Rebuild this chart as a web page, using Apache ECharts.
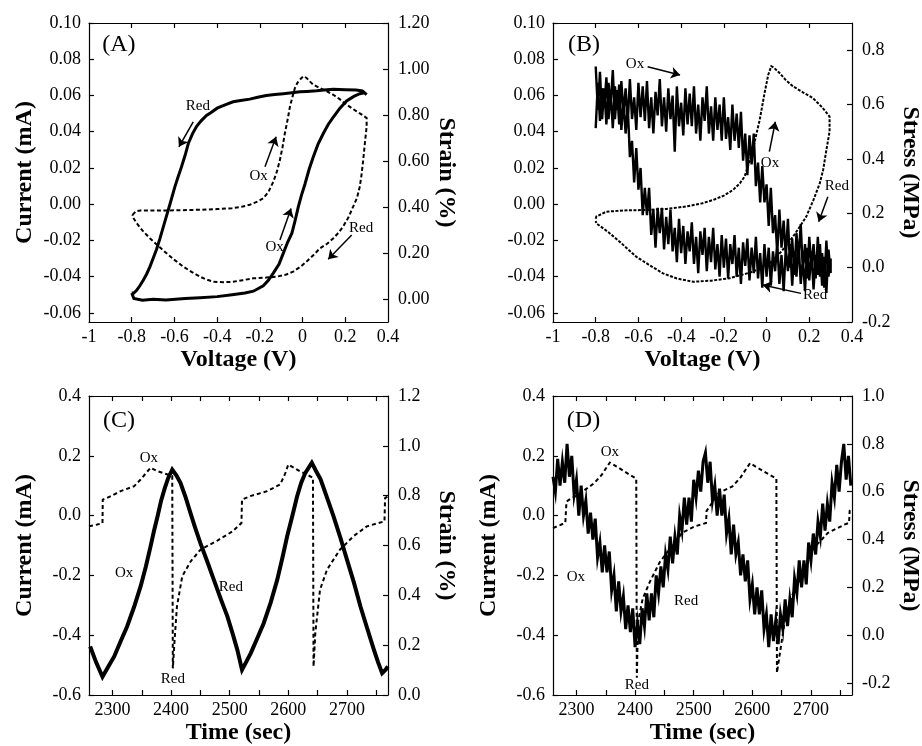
<!DOCTYPE html>
<html><head><meta charset="utf-8">
<script src="https://cdn.jsdelivr.net/npm/echarts@6/dist/echarts.min.js"></script>
<style>html,body{margin:0;padding:0;background:#fff}#c{width:922px;height:746px}</style>
</head><body><div id="c"></div>
<script>
// ================= DATA =================
// Tick values
const voltTickVals = [-0.8,-0.6,-0.4,-0.2,0,0.2];
const voltLabelVals = [-1,-0.8,-0.6,-0.4,-0.2,0,0.2,0.4];
const curTicksAB = [-0.06,-0.04,-0.02,0,0.02,0.04,0.06,0.08,0.10];
const strainTicksA = [0,0.2,0.4,0.6,0.8,1.0,1.2];
const stressTicksB = [-0.2,0,0.2,0.4,0.6,0.8];
const timeLabelVals = [2300,2400,2500,2600,2700];
const timeTickVals = [2300,2350,2400,2450,2500,2550,2600,2650,2700,2750];
const curTicksCD = [-0.6,-0.4,-0.2,0,0.2,0.4];
const strainTicksC = [0,0.2,0.4,0.6,0.8,1.0,1.2];
const stressTicksD = [-0.2,0,0.2,0.4,0.6,0.8,1.0];

// Panel A: current (mA) vs voltage (V) and strain (%) vs voltage
const aCurrent = [[-0.80,-0.049],[-0.79,-0.052],[-0.75,-0.053],[-0.70,-0.0525],[-0.64,-0.0528],[-0.55,-0.052],[-0.48,-0.0516],[-0.40,-0.051],[-0.33,-0.050],[-0.27,-0.049],[-0.23,-0.048],[-0.184,-0.045],[-0.16,-0.042],[-0.137,-0.038],[-0.11,-0.033],[-0.09,-0.027],[-0.07,-0.021],[-0.05,-0.016],[-0.035,-0.009],[-0.02,-0.0015],[-0.005,0.005],[0.011,0.011],[0.03,0.019],[0.05,0.026],[0.072,0.033],[0.097,0.039],[0.12,0.044],[0.144,0.048],[0.175,0.053],[0.206,0.057],[0.24,0.0595],[0.268,0.061],[0.29,0.0615],[0.30,0.0605],
[0.28,0.0625],[0.25,0.063],[0.20,0.0632],[0.144,0.0634],[0.10,0.063],[0.066,0.0626],[0.02,0.0622],[-0.012,0.062],[-0.05,0.0615],[-0.09,0.061],[-0.13,0.0605],[-0.17,0.060],[-0.21,0.059],[-0.247,0.058],[-0.29,0.0572],[-0.325,0.0565],[-0.36,0.055],[-0.40,0.053],[-0.43,0.0505],[-0.45,0.049],[-0.475,0.046],[-0.496,0.043],[-0.515,0.039],[-0.535,0.0335],[-0.55,0.027],[-0.567,0.0206],[-0.583,0.015],[-0.598,0.0096],[-0.62,0.0004],[-0.636,-0.006],[-0.652,-0.0125],[-0.668,-0.019],[-0.684,-0.025],[-0.70,-0.030],[-0.715,-0.0346],[-0.73,-0.0385],[-0.746,-0.042],[-0.762,-0.045],[-0.777,-0.0475],[-0.79,-0.049],[-0.80,-0.049]];
const aStrain = [[-0.796,0.366],[-0.78,0.382],[-0.76,0.385],[-0.70,0.385],[-0.64,0.385],[-0.56,0.386],[-0.48,0.388],[-0.40,0.391],[-0.33,0.395],[-0.28,0.402],[-0.247,0.41],[-0.21,0.424],[-0.184,0.438],[-0.16,0.465],[-0.137,0.51],[-0.12,0.555],[-0.106,0.605],[-0.094,0.66],[-0.083,0.72],[-0.07,0.78],[-0.059,0.837],[-0.047,0.88],[-0.036,0.917],[-0.024,0.94],[-0.012,0.954],[0.003,0.968],[0.019,0.961],[0.035,0.945],[0.05,0.932],[0.075,0.92],[0.097,0.91],[0.12,0.9],[0.144,0.888],[0.175,0.868],[0.206,0.845],[0.23,0.83],[0.253,0.816],[0.28,0.80],[0.30,0.787],
[0.30,0.75],[0.292,0.68],[0.284,0.605],[0.276,0.54],[0.268,0.489],[0.255,0.44],[0.237,0.402],[0.215,0.355],[0.19,0.315],[0.168,0.288],[0.144,0.264],[0.115,0.24],[0.081,0.22],[0.05,0.19],[0.019,0.163],[-0.01,0.14],[-0.044,0.119],[-0.08,0.105],[-0.122,0.097],[-0.17,0.093],[-0.23,0.09],[-0.28,0.082],[-0.325,0.075],[-0.37,0.073],[-0.418,0.075],[-0.45,0.085],[-0.48,0.097],[-0.52,0.118],[-0.559,0.141],[-0.60,0.17],[-0.637,0.199],[-0.675,0.23],[-0.715,0.264],[-0.75,0.298],[-0.777,0.33],[-0.796,0.358],[-0.796,0.366]];

// Panel B: noisy current, sampled at the voltages below (oxidation sweep up, reduction sweep back)
const bVolt = [-0.80,-0.79,-0.78,-0.77,-0.76,-0.75,-0.74,-0.73,-0.72,-0.71,
-0.70,-0.69,-0.68,-0.67,-0.66,-0.65,-0.64,-0.63,-0.62,-0.61,
-0.60,-0.59,-0.58,-0.57,-0.56,-0.55,-0.54,-0.53,-0.52,-0.51,
-0.50,-0.49,-0.48,-0.47,-0.46,-0.45,-0.44,-0.43,-0.42,-0.41,
-0.40,-0.39,-0.38,-0.37,-0.36,-0.35,-0.34,-0.33,-0.32,-0.31,
-0.30,-0.29,-0.28,-0.27,-0.26,-0.25,-0.24,-0.23,-0.22,-0.21,
-0.20,-0.19,-0.18,-0.17,-0.16,-0.15,-0.14,-0.13,-0.12,-0.11,
-0.10,-0.09,-0.08,-0.07,-0.06,-0.05,-0.04,-0.03,-0.02,-0.01,
0.00,0.01,0.02,0.03,0.04,0.05,0.06,0.07,0.08,0.09,
0.10,0.11,0.12,0.13,0.14,0.15,0.16,0.17,0.18,0.19,
0.20,0.21,0.22,0.23,0.24,0.25,0.26,0.27,0.28,0.29,
0.30];
const bCurrentOx = [0.076,0.052,0.073,0.047,0.064,0.044,0.067,0.054,0.074,0.047,
0.063,0.044,0.068,0.050,0.064,0.045,0.069,0.047,0.059,0.041,
0.067,0.048,0.065,0.046,0.068,0.042,0.059,0.039,0.062,0.049,
0.069,0.043,0.059,0.040,0.064,0.047,0.060,0.029,0.065,0.043,
0.056,0.038,0.064,0.044,0.061,0.043,0.065,0.039,0.055,0.035,
0.059,0.046,0.065,0.039,0.054,0.035,0.059,0.041,0.055,0.035,
0.059,0.036,0.048,0.030,0.055,0.035,0.050,0.031,0.051,0.024,
0.039,0.016,0.038,0.022,0.039,0.010,0.023,0.001,0.021,0.001,
0.011,-0.012,0.009,-0.016,-0.006,-0.027,-0.003,-0.024,-0.009,-0.029,
-0.008,-0.035,-0.019,-0.039,-0.016,-0.030,-0.011,-0.037,-0.022,-0.041,
-0.018,-0.035,-0.022,-0.041,-0.018,-0.040,-0.027,-0.046,-0.020,-0.040,
-0.030];
const bCurrentRed = [0.042,0.067,0.046,0.064,0.053,0.070,0.047,0.062,0.042,0.065,
0.052,0.066,0.041,0.057,0.039,0.054,0.026,0.035,0.012,0.031,
0.008,0.020,-0.006,0.009,-0.006,0.009,-0.017,-0.003,-0.024,-0.002,
-0.016,-0.002,-0.025,-0.007,-0.022,-0.003,-0.026,-0.013,-0.032,-0.008,
-0.027,-0.012,-0.033,-0.015,-0.026,-0.010,-0.033,-0.018,-0.038,-0.015,
-0.028,-0.013,-0.037,-0.018,-0.032,-0.013,-0.036,-0.022,-0.040,-0.017,
-0.035,-0.019,-0.041,-0.022,-0.033,-0.017,-0.040,-0.024,-0.044,-0.021,
-0.034,-0.019,-0.042,-0.024,-0.038,-0.018,-0.041,-0.027,-0.046,-0.022,
-0.040,-0.024,-0.045,-0.026,-0.037,-0.021,-0.044,-0.028,-0.048,-0.024,
-0.037,-0.022,-0.045,-0.026,-0.040,-0.021,-0.044,-0.030,-0.048,-0.024,
-0.042,-0.026,-0.047,-0.028,-0.039,-0.022,-0.045,-0.029,-0.049,-0.025,
-0.038];
const bStress = [[-0.80,0.180],[-0.797,0.188],[-0.75,0.206],[-0.65,0.211],[-0.563,0.212],[-0.47,0.216],[-0.376,0.225],[-0.30,0.237],[-0.25,0.249],[-0.20,0.265],[-0.157,0.286],[-0.125,0.31],[-0.103,0.335],[-0.08,0.39],[-0.064,0.433],[-0.048,0.49],[-0.032,0.544],[-0.01,0.64],[0.008,0.71],[0.022,0.741],[0.035,0.735],[0.061,0.716],[0.09,0.69],[0.124,0.667],[0.17,0.645],[0.217,0.624],[0.26,0.59],[0.295,0.556],[0.30,0.55],
[0.295,0.50],[0.28,0.433],[0.265,0.36],[0.249,0.31],[0.22,0.25],[0.186,0.188],[0.155,0.15],[0.124,0.114],[0.07,0.06],[0.015,0.016],[-0.064,-0.015],[-0.173,-0.039],[-0.26,-0.048],[-0.344,-0.052],[-0.42,-0.04],[-0.485,-0.021],[-0.55,0.01],[-0.61,0.04],[-0.68,0.09],[-0.74,0.13],[-0.797,0.163],[-0.80,0.172]];

// Panel C: current and strain vs time (sec)
const cCurrent = [[2262,-0.438],[2272,-0.49],[2283,-0.539],[2293,-0.505],[2303,-0.471],[2314,-0.42],[2325,-0.371],[2337,-0.305],[2348,-0.237],[2357,-0.17],[2365,-0.103],[2371,-0.05],[2377,-0.002],[2383,0.05],[2389,0.09],[2395,0.125],[2402,0.154],[2409,0.135],[2416,0.11],[2425,0.06],[2433,0.009],[2441,-0.04],[2450,-0.092],[2462,-0.155],[2473,-0.215],[2485,-0.28],[2496,-0.337],[2505,-0.395],[2513,-0.449],[2521,-0.516],[2528,-0.49],[2536,-0.46],[2547,-0.41],[2558,-0.36],[2570,-0.29],[2581,-0.215],[2590,-0.14],[2598,-0.069],[2607,0.0],[2615,0.065],[2622,0.11],[2629,0.143],[2640,0.177],[2647,0.15],[2655,0.121],[2666,0.06],[2677,-0.002],[2689,-0.075],[2700,-0.147],[2712,-0.225],[2723,-0.304],[2735,-0.38],[2746,-0.449],[2753,-0.49],[2760,-0.527],[2766,-0.515],[2770,-0.505]];
const cStrain = [[2260,0.677],[2274,0.684],[2283,0.690],[2283.5,0.784],[2291,0.791],[2314,0.818],[2337,0.838],[2348,0.865],[2360,0.898],[2365,0.912],[2377,0.898],[2394,0.885],[2402,0.878],[2403,0.107],[2406,0.221],[2410,0.355],[2419,0.476],[2433,0.535],[2450,0.583],[2479,0.62],[2505,0.657],[2520,0.69],[2521,0.784],[2535,0.798],[2564,0.818],[2586,0.845],[2594,0.885],[2600,0.925],[2620,0.898],[2637,0.878],[2642,0.872],[2643,0.114],[2646,0.248],[2654,0.422],[2666,0.503],[2688,0.583],[2711,0.637],[2734,0.677],[2764,0.697],[2765,0.79],[2770,0.798]];

// Panel D: noisy current sampled at the times below, and stress
const dTime = [2260,2264,2268,2272,2276,2280,2284,2288,2292,2296,
2300,2304,2308,2312,2316,2320,2324,2328,2332,2336,
2340,2344,2348,2352,2356,2360,2364,2368,2372,2376,
2380,2384,2388,2392,2396,2400,2404,2408,2412,2416,
2420,2424,2428,2432,2436,2440,2444,2448,2452,2456,
2460,2464,2468,2472,2476,2480,2484,2488,2492,2496,
2500,2504,2508,2512,2516,2520,2524,2528,2532,2536,
2540,2544,2548,2552,2556,2560,2564,2568,2572,2576,
2580,2584,2588,2592,2596,2600,2604,2608,2612,2616,
2620,2624,2628,2632,2636,2640,2644,2648,2652,2656,
2660,2664,2668,2672,2676,2680,2684,2688,2692,2696,
2700,2704,2708,2712,2716,2720,2724,2728,2732,2736,
2740,2744,2748,2752,2756,2760,2764,2768];
const dCurrent = [0.13,0.08,0.19,0.10,0.18,0.11,0.24,0.13,0.20,0.07,
0.12,0.00,0.10,0.00,0.05,-0.06,0.01,-0.08,-0.01,-0.14,
-0.09,-0.19,-0.10,-0.19,-0.12,-0.25,-0.20,-0.32,-0.22,-0.32,
-0.27,-0.38,-0.30,-0.39,-0.31,-0.44,-0.36,-0.43,-0.31,-0.37,
-0.26,-0.35,-0.26,-0.34,-0.20,-0.26,-0.17,-0.24,-0.13,-0.18,
-0.07,-0.16,-0.07,-0.13,0.00,-0.05,0.06,-0.03,0.06,-0.02,
0.12,0.06,0.15,0.08,0.18,0.21,0.11,0.18,0.05,0.10,
0.00,0.09,0.00,0.07,-0.06,-0.01,-0.13,-0.03,-0.13,-0.09,
-0.20,-0.13,-0.22,-0.15,-0.28,-0.23,-0.33,-0.24,-0.33,-0.25,
-0.38,-0.33,-0.44,-0.33,-0.42,-0.35,-0.43,-0.33,-0.38,-0.28,
-0.37,-0.28,-0.34,-0.21,-0.26,-0.15,-0.24,-0.15,-0.23,-0.09,
-0.15,-0.06,-0.13,-0.02,-0.07,0.04,-0.05,0.04,-0.02,0.11,
0.06,0.17,0.08,0.18,0.24,0.12,0.20,0.10];
const dStress = [[2260,0.448],[2272,0.46],[2281,0.47],[2283,0.559],[2290,0.57],[2302,0.586],[2330,0.635],[2343,0.67],[2352,0.704],[2357,0.722],[2372,0.70],[2390,0.672],[2402,0.655],[2403,-0.178],[2405,0.056],[2413,0.153],[2425,0.222],[2442,0.305],[2459,0.36],[2468,0.386],[2480,0.428],[2502,0.455],[2521,0.469],[2522,0.52],[2543,0.595],[2566,0.622],[2580,0.66],[2596,0.719],[2620,0.684],[2641,0.655],[2642,-0.157],[2656,0.07],[2668,0.167],[2692,0.29],[2703,0.36],[2729,0.428],[2757,0.462],[2765,0.47],[2766,0.52],[2770,0.53]];

// Annotations (in each panel's bottom/left axis units)
const notes = [
 {p:0,x:-0.86,y:0.0879,t:'(A)',s:24},{p:0,x:-0.490,y:0.0542,t:'Red',s:15},{p:0,x:-0.206,y:0.0155,t:'Ox',s:15},{p:0,x:-0.131,y:-0.0239,t:'Ox',s:15},{p:0,x:0.274,y:-0.0129,t:'Red',s:15},
 {p:1,x:-0.855,y:0.0879,t:'(B)',s:24},{p:1,x:-0.616,y:0.0774,t:'Ox',s:15},{p:1,x:0.016,y:0.0227,t:'Ox',s:15},{p:1,x:0.329,y:0.0100,t:'Red',s:15},{p:1,x:0.227,y:-0.0501,t:'Red',s:15},
 {p:2,x:2311,y:0.318,t:'(C)',s:24},{p:2,x:2362,y:0.193,t:'Ox',s:15},{p:2,x:2320,y:-0.191,t:'Ox',s:15},{p:2,x:2502,y:-0.239,t:'Red',s:15},{p:2,x:2403,y:-0.546,t:'Red',s:15},
 {p:3,x:2312,y:0.318,t:'(D)',s:24},{p:3,x:2357,y:0.213,t:'Ox',s:15},{p:3,x:2299,y:-0.207,t:'Ox',s:15},{p:3,x:2487,y:-0.286,t:'Red',s:15},{p:3,x:2403,y:-0.567,t:'Red',s:15}
];
const arrowsA = [[[-0.512,0.0455],[-0.579,0.0317]],[[-0.176,0.0207],[-0.124,0.0372]],[[-0.106,-0.0198],[-0.054,-0.0023]],[[0.230,-0.0170],[0.120,-0.0304]]];
const arrowsB = [[[-0.557,0.0759],[-0.405,0.0713]],[[0.013,0.0290],[0.041,0.0455]],[[0.287,0.0041],[0.244,-0.0097]],[[0.161,-0.0492],[-0.018,-0.0446]]];

// ================= CHART =================
const FONT = '"Liberation Serif","Times New Roman",serif';
const BLACK = '#000';
const fmt2 = v => v.toFixed(2);
const fmt1 = v => v.toFixed(1);
const fmtV = v => String(Math.round(v*10)/10);
const fmtT = v => String(Math.round(v));
const nameStyle = {fontFamily:FONT, fontWeight:'bold', fontSize:24, color:BLACK};
const lblStyle = {color:BLACK, fontFamily:FONT, fontSize:18};

const grids = [
 {left:89, top:23, width:299, height:299},
 {left:553, top:23, width:299, height:299},
 {left:89, top:396, width:299, height:299},
 {left:553, top:396, width:299, height:299}
].map(g => Object.assign({containLabel:false, outerBoundsMode:'none', show:false}, g));

function axLine(){ return {show:true, onZero:false, lineStyle:{color:BLACK, width:1.2}}; }
function tick(vals){ return {show:true, inside:true, length:5, customValues:vals, lineStyle:{color:BLACK, width:1.2}}; }

function xPair(gi, min, max, ticks, labels, fmt, name){
  return [
    {gridIndex:gi, type:'value', position:'bottom', min, max, splitLine:{show:false}, axisLine:axLine(), axisTick:tick(ticks),
     axisLabel:Object.assign({show:true, customValues:labels, formatter:fmt, margin:6}, lblStyle),
     name, nameLocation:'middle', nameGap:26, nameTextStyle:nameStyle},
    {gridIndex:gi, type:'value', position:'top', min, max, splitLine:{show:false}, axisLine:axLine(), axisTick:tick(ticks), axisLabel:{show:false}}
  ];
}
function yAx(gi, pos, min, max, ticks, fmt, name, gap){
  const o = {gridIndex:gi, type:'value', position:pos, min, max, splitLine:{show:false}, axisLine:axLine(), axisTick:tick(ticks),
    axisLabel:Object.assign({show:true, customValues:ticks, formatter:fmt, margin:pos==='left'?8:10}, lblStyle)};
  if (name) { Object.assign(o, {name, nameLocation:'middle', nameGap:gap, nameRotate: pos==='left'?90:-90, nameTextStyle:nameStyle}); }
  return o;
}

const xAxes = [].concat(
  xPair(0,-1,0.4,voltTickVals,voltLabelVals,fmtV,'Voltage (V)'),
  xPair(1,-1,0.4,voltTickVals,voltLabelVals,fmtV,'Voltage (V)'),
  xPair(2,2260,2770,timeTickVals,timeLabelVals,fmtT,'Time (sec)'),
  xPair(3,2260,2770,timeTickVals,timeLabelVals,fmtT,'Time (sec)')
);
const yAxes = [
  yAx(0,'left',-0.065,0.10,curTicksAB,fmt2,'Current (mA)',52),
  yAx(0,'right',-0.1,1.2,strainTicksA,fmt2,'Strain (%)',46),
  yAx(1,'left',-0.065,0.10,curTicksAB,fmt2,null,0),
  yAx(1,'right',-0.2,0.9,stressTicksB,fmt1,'Stress (MPa)',46),
  yAx(2,'left',-0.6,0.4,curTicksCD,fmt1,'Current (mA)',52),
  yAx(2,'right',0,1.2,strainTicksC,fmt1,'Strain (%)',46),
  yAx(3,'left',-0.6,0.4,curTicksCD,fmt1,'Current (mA)',52),
  yAx(3,'right',-0.25,1.0,stressTicksD,fmt1,'Stress (MPa)',46)
];

const bCurrent = bVolt.map((v,i)=>[v,bCurrentOx[i]]).concat(bVolt.map((v,i)=>[v,bCurrentRed[i]]).reverse());
const dCurrentPairs = dTime.map((t,i)=>[t,dCurrent[i]]);

function line(xi, yi, data, width, dash){
  return {type:'line', xAxisIndex:xi, yAxisIndex:yi, data, showSymbol:false, symbol:'none', animation:false, silent:true,
    lineStyle:{color:BLACK, width, type: dash || 'solid', cap:'butt', join:'miter'}};
}
function arrows(xi, yi, list){
  return {type:'lines', coordinateSystem:'cartesian2d', xAxisIndex:xi, yAxisIndex:yi, silent:true, animation:false,
    symbol:['none','arrow'], symbolSize:9, z:5,
    lineStyle:{color:BLACK, width:1.5, opacity:1, curveness:0},
    data:list.map(c=>({coords:c}))};
}

const series = [
  line(0,1,aStrain,2,[4,2.5]),
  line(0,0,aCurrent,3),
  line(2,3,bStress,2,[3,1.5]),
  line(2,2,bCurrent,2.4),
  line(4,5,cStrain,2,[4,3]),
  line(4,4,cCurrent,4),
  line(6,7,dStress,2,[4,3]),
  line(6,6,dCurrentPairs,3),
  arrows(0,0,arrowsA),
  arrows(2,2,arrowsB)
];

const chart = echarts.init(document.getElementById('c'), null, {renderer:'canvas'});
chart.setOption({animation:false, backgroundColor:'#fff', grid:grids, xAxis:xAxes, yAxis:yAxes, series});

const graphics = notes.map(n => {
  const px = chart.convertToPixel({xAxisIndex:2*n.p, yAxisIndex:2*n.p}, [n.x, n.y]);
  return {type:'text', x:px[0], y:px[1], z:10, silent:true,
    style:{text:n.t, fill:BLACK, font: n.s + 'px ' + FONT, align:'center', verticalAlign:'middle'}};
});
chart.setOption({graphic:graphics});
</script></body></html>
